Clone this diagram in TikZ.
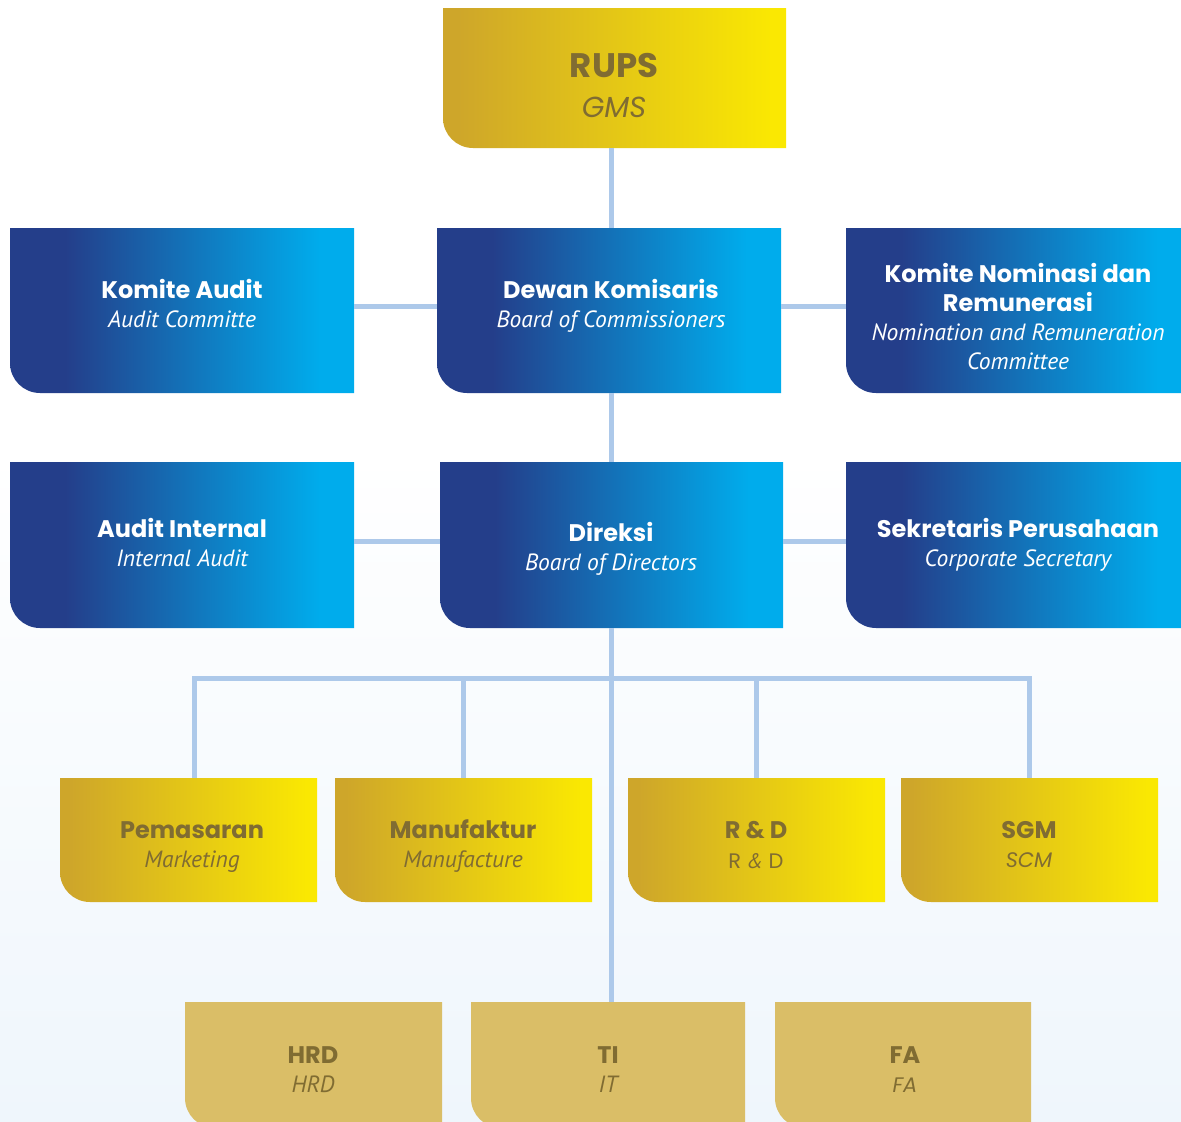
\documentclass[tikz,border=0pt]{standalone}
\usepackage{fontspec}
\setmainfont{PT Sans}
\newfontfamily\titlefont{Poppins}
\newfontfamily\subfont{PT Sans}
\definecolor{bdark}{RGB}{36,62,138}
\definecolor{bcyan}{RGB}{0,172,236}
\definecolor{ydark}{RGB}{206,166,42}
\definecolor{ylight}{RGB}{250,232,2}
\definecolor{flatgold}{RGB}{218,190,103}
\definecolor{goldtext}{RGB}{128,108,50}
\definecolor{lineblue}{RGB}{173,201,234}
\definecolor{bgblue}{RGB}{239,246,252}
\pgfdeclarehorizontalshading{blueshade}{100bp}{color(0bp)=(bdark); color(33bp)=(bdark); color(70bp)=(bcyan); color(100bp)=(bcyan)}
\pgfdeclarehorizontalshading{yellowshade}{100bp}{color(0bp)=(ydark); color(27bp)=(ydark); color(73bp)=(ylight); color(100bp)=(ylight)}
\tikzset{
  conn/.style={draw=lineblue, line width=5pt, line join=miter},
  bluefill/.style={shading=blueshade},
  yellowfill/.style={shading=yellowshade},
  flatfill/.style={fill=flatgold},
  boxnode/.style={inner sep=0pt, draw=none},
  ttl/.style={anchor=base, inner sep=0pt, font=\titlefont\bfseries\fontsize{24}{24}\selectfont},
  sub/.style={anchor=base, inner sep=0pt, font=\subfont\itshape\fontsize{23.5}{24}\selectfont},
  subm/.style={anchor=base, inner sep=0pt, font=\titlefont\fontsize{21}{24}\selectfont},
  onblue/.style={text=white},
  ongold/.style={text=goldtext},
}
\newcommand\orgbox[6]{%
  \path[#6] (#2,#3) -- (#4,#3) -- (#4,#5) -- ({#2+30},#5) .. controls ({#2+13.4},#5) and (#2,{#5-13.4}) .. (#2,{#5-30}) -- cycle;
  \node[boxnode, minimum width={(#4-#2)*1pt}, minimum height={(#5-#3)*1pt}] (#1) at ({(#2+#4)/2},{(#3+#5)/2}) {};
}
\begin{document}
\begin{tikzpicture}[x=1pt,y=-1pt]
\useasboundingbox (0,0) rectangle (1181,1122);
\clip (0,0) rectangle (1181,1122);
\shade[top color=white, bottom color=bgblue] (0,450) rectangle (1181,1122);
\fill[white] (0,0) rectangle (1181,450);

% connector helpers
\coordinate (spine) at (611,0);
\coordinate (h1) at (0,306);
\coordinate (h2) at (0,541);
\coordinate (bus) at (0,678);
\coordinate (dA) at (194,0);
\coordinate (dB) at (463,0);
\coordinate (dC) at (756,0);
\coordinate (dD) at (1029,0);

% boxes
\orgbox{rups}{443}{8}{786}{148}{shade, yellowfill}
\orgbox{ka}{10}{228}{354}{393}{shade, bluefill}
\orgbox{dk}{437}{228}{781}{393}{shade, bluefill}
\orgbox{kn}{846}{228}{1192}{393}{shade, bluefill}
\orgbox{ai}{10}{462}{354}{628}{shade, bluefill}
\orgbox{dir}{440}{462}{783}{628}{shade, bluefill}
\orgbox{sp}{846}{462}{1192}{628}{shade, bluefill}
\orgbox{pem}{60}{778}{317}{902}{shade, yellowfill}
\orgbox{man}{335}{778}{592}{902}{shade, yellowfill}
\orgbox{rnd}{628}{778}{885}{902}{shade, yellowfill}
\orgbox{sgm}{901}{778}{1158}{902}{shade, yellowfill}
\orgbox{hrd}{185}{1002}{442}{1128}{flatfill}
\orgbox{ti}{471}{1002}{745}{1128}{flatfill}
\orgbox{fa}{775}{1002}{1031}{1128}{flatfill}

% connectors
\draw[conn] (rups.south -| spine) -- (dk.north -| spine);
\draw[conn] (dk.south -| spine) -- (dir.north -| spine);
\draw[conn] (ka.east |- h1) -- (dk.west |- h1);
\draw[conn] (dk.east |- h1) -- (kn.west |- h1);
\draw[conn] (ai.east |- h2) -- (dir.west |- h2);
\draw[conn] (dir.east |- h2) -- (sp.west |- h2);
\draw[conn] (dir.south -| spine) -- (ti.north -| spine);
\draw[conn] (dA |- pem.north) -- (dA |- bus) -- (dD |- bus) -- (dD |- sgm.north);
\draw[conn] (dB |- bus) -- (dB |- man.north);
\draw[conn] (dC |- bus) -- (dC |- rnd.north);

% texts
\node[ttl, ongold, font=\titlefont\bfseries\fontsize{34}{34}\selectfont] (t-rups) at (614,77) {RUPS};
\node[anchor=base, inner sep=0pt, ongold, font=\titlefont\itshape\fontsize{29}{29}\selectfont] (s-rups) at (614,117) {GMS};

\node[ttl, onblue] (t-ka) at (182,298) {Komite Audit};
\node[sub, onblue] (s-ka) at (182,327) {Audit Committe};
\node[ttl, onblue] (t-dk) at (611,298) {Dewan Komisaris};
\node[sub, onblue] (s-dk) at (611,327) {Board of Commissioners};
\node[ttl, onblue] (t-kn1) at (1018,282) {Komite Nominasi dan};
\node[ttl, onblue] (t-kn2) at (1018,311) {Remunerasi};
\node[sub, onblue] (s-kn1) at (1018,340) {Nomination and Remuneration};
\node[sub, onblue] (s-kn2) at (1018,369) {Committee};

\node[ttl, onblue] (t-ai) at (182,537) {Audit Internal};
\node[sub, onblue] (s-ai) at (182,566) {Internal Audit};
\node[ttl, onblue] (t-dir) at (611,541) {Direksi};
\node[sub, onblue] (s-dir) at (611,570) {Board of Directors};
\node[ttl, onblue] (t-sp) at (1018,537) {Sekretaris Perusahaan};
\node[sub, onblue] (s-sp) at (1018,566) {Corporate Secretary};

\node[ttl, ongold] (t-pem) at (192,838) {Pemasaran};
\node[sub, ongold] (s-pem) at (192,867) {Marketing};
\node[ttl, ongold] (t-man) at (463,838) {Manufaktur};
\node[sub, ongold] (s-man) at (463,867) {Manufacture};
\node[ttl, ongold] (t-rnd) at (756,838) {R \& D};
\node[subm, ongold] (s-rnd) at (756,868) {R {\subfont\itshape\&} D};
\node[ttl, ongold] (t-sgm) at (1029,838) {SGM};
\node[subm, ongold, font=\titlefont\itshape\fontsize{21}{24}\selectfont] (s-sgm) at (1029,867) {SCM};

\node[ttl, ongold] (t-hrd) at (313,1063) {HRD};
\node[sub, ongold] (s-hrd) at (313,1092) {HRD};
\node[ttl, ongold] (t-ti) at (608,1063) {TI};
\node[sub, ongold] (s-ti) at (608,1092) {IT};
\node[ttl, ongold] (t-fa) at (905,1063) {FA};
\node[subm, ongold, font=\titlefont\itshape\fontsize{21}{24}\selectfont] (s-fa) at (905,1092) {FA};
\end{tikzpicture}
\end{document}
